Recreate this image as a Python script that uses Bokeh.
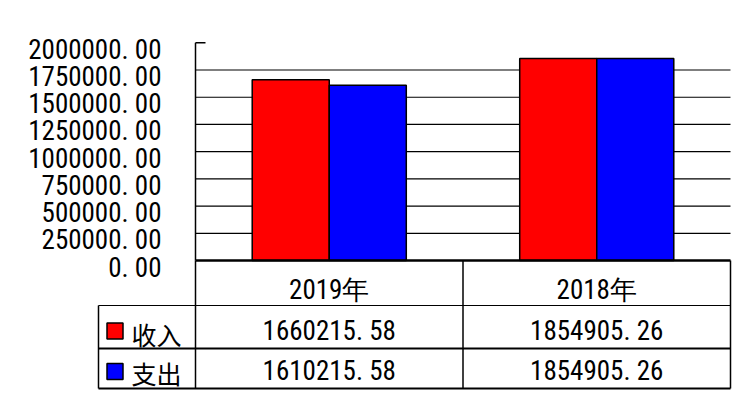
from bokeh.plotting import figure
from bokeh.models import Range1d, LinearAxis, FixedTicker
from bokeh.core.properties import value
from bokeh.embed import file_html
from bokeh.resources import INLINE

# ---- data ----
categories = ["2019年", "2018年"]
series_names = ["收入", "支出"]
income = [1660215.58, 1854905.26]
expense = [1610215.58, 1854905.26]
y_ticks = [0, 250000, 500000, 750000, 1000000, 1250000, 1500000, 1750000, 2000000]
y_tick_labels = ["0. 00", "250000. 00", "500000. 00", "750000. 00", "1000000. 00",
                 "1250000. 00", "1500000. 00", "1750000. 00", "2000000. 00"]

# ---- style ----
NUM_FONT = "Roboto Condensed"
CJK_FONT = "Noto Sans CJK SC"
FS = "27px"
RED = "#ff0000"
BLUE = "#0000ff"
series_colors = [RED, BLUE]


def fmt(v):
    return f"{v:.2f}".replace(".", ". ")


# layout (screen px): frame left 20, right 740, top 30, bottom 395; category unit = 267.5 px
CAT_PX = 267.5
units_per_px = 2000000.0 / 217.7
y_start = -135 * units_per_px
y_end = 230 * units_per_px

p = figure(width=745, height=400,
           x_range=Range1d(-175 / CAT_PX, 2 + 10 / CAT_PX),
           y_range=Range1d(y_start, y_end),
           x_axis_type=None, y_axis_type=None,
           toolbar_location=None, output_backend="svg",
           min_border_left=20, min_border_right=5,
           min_border_top=30, min_border_bottom=5)
p.outline_line_color = None
p.background_fill_color = "white"
p.border_fill_color = "white"

label_shift = 7 * units_per_px
p.extra_y_ranges = {
    "lab": Range1d(y_start + label_shift, y_end + label_shift),
    "tbl": Range1d(395, 30),
}

# tick labels axis
ax = LinearAxis(y_range_name="lab", ticker=FixedTicker(ticks=y_ticks),
                major_label_overrides={t: l for t, l in zip(y_ticks, y_tick_labels)},
                axis_line_color=None, major_tick_line_color=None,
                minor_tick_line_color=None,
                major_tick_out=0, major_tick_in=0, major_label_standoff=34,
                major_label_text_font=NUM_FONT, major_label_text_font_size=FS,
                major_label_text_color="black")
ax.fixed_location = 0
p.add_layout(ax, "left")

# gridlines
grid_vals = y_ticks[1:-1]
p.segment(x0=[0] * len(grid_vals), x1=[2] * len(grid_vals), y0=grid_vals, y1=grid_vals,
          line_color="black", line_width=1.2)
# axis line + top tick stub
p.segment(x0=[0], x1=[0], y0=[0], y1=[y_ticks[-1]], line_color="black", line_width=1.5)
p.segment(x0=[0], x1=[10 / CAT_PX], y0=[y_ticks[-1]], y1=[y_ticks[-1]], line_color="black", line_width=1.5)

# bars
n = len(categories)
bw = 0.288
xs_c = [i + 0.5 for i in range(n)]
for k, (vals, col) in enumerate(zip([income, expense], series_colors)):
    off = (k - 0.5) * bw
    p.vbar(x=[c + off for c in xs_c], top=vals, bottom=0, width=bw,
           fill_color=col, line_color="black", line_width=1.5)

# table lines (tbl range in screen rows)
XL = -97 / CAT_PX
p.segment(x0=[0], x1=[2], y0=[260], y1=[260], y_range_name="tbl", line_color="black", line_width=2.5)
p.segment(x0=[XL], x1=[2], y0=[305], y1=[305], y_range_name="tbl", line_color="black", line_width=1.2)
p.segment(x0=[XL, XL], x1=[2, 2], y0=[348, 388], y1=[348, 388], y_range_name="tbl",
          line_color="black", line_width=2)
p.segment(x0=[0, 1, 2], x1=[0, 1, 2], y0=[260, 260, 260], y1=[388, 388, 388], y_range_name="tbl",
          line_color="black", line_width=1.5)
p.segment(x0=[XL], x1=[XL], y0=[305], y1=[388], y_range_name="tbl", line_color="black", line_width=1.5)

# header texts
p.text(x=xs_c, y=[289] * n, text=categories, y_range_name="tbl",
       text_align="center", text_baseline="middle",
       text_font=value(NUM_FONT), text_font_size=FS, text_color="black")
# cell values
row_y = [330, 370]
for vals, ry in zip([income, expense], row_y):
    p.text(x=xs_c, y=[ry] * n, text=[fmt(v) for v in vals], y_range_name="tbl",
           text_align="center", text_baseline="middle",
           text_font=value(NUM_FONT), text_font_size=FS, text_color="black")

# legend swatches + names
p.rect(x=[(114.5 - 195) / CAT_PX] * 2, y=[330.5, 371], width=16, height=16,
       width_units="screen", height_units="screen", y_range_name="tbl",
       fill_color=series_colors, line_color="black", line_width=1.5)
p.text(x=[(131 - 195) / CAT_PX] * 2, y=[333, 372], text=series_names, y_range_name="tbl",
       text_align="left", text_baseline="middle",
       text_font=value(CJK_FONT), text_font_size="25px", text_color="black")

open("out.html", "w").write(file_html(p, INLINE))
